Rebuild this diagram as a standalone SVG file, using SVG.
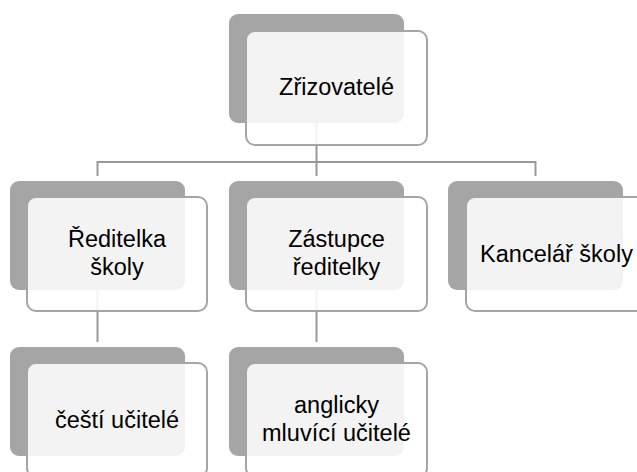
<svg xmlns="http://www.w3.org/2000/svg" width="637" height="472" viewBox="0 0 637 472">
<style>
.bg{fill:#a5a5a5}
.fg{fill:#ffffff;fill-opacity:0.87;stroke:#a5a5a5;stroke-width:2}
.lbl{font-family:"Liberation Sans",Arial,sans-serif;font-size:23.5px;fill:#000;text-anchor:middle}
.conn{fill:none;stroke:#999999;stroke-width:2}
</style>
<rect width="637" height="472" fill="#ffffff"/>
<g id="connectors">
<path class="conn" d="M316.5,123 V162 M97.5,176 V162 H535.5 V176 M316.5,162 V176"/>
<path class="conn" d="M97.5,290 V342 M316.5,290 V342"/>
</g>
<g id="n-zrizovatele">
<rect class="bg" x="229" y="14" width="175" height="109" rx="9"/>
<rect class="fg" x="246" y="31" width="181" height="114" rx="9"/>
<text class="lbl" x="336.5" y="95">Zřizovatelé</text>
</g>
<g id="n-reditelka">
<rect class="bg" x="10" y="181" width="175" height="109" rx="9"/>
<rect class="fg" x="27" y="197" width="180" height="114" rx="9"/>
<text class="lbl" x="117" y="247">Ředitelka</text>
<text class="lbl" x="117" y="275">školy</text>
</g>
<g id="n-zastupce">
<rect class="bg" x="229" y="181" width="175" height="109" rx="9"/>
<rect class="fg" x="246" y="197" width="181" height="114" rx="9"/>
<text class="lbl" x="336.5" y="247">Zástupce</text>
<text class="lbl" x="336.5" y="275">ředitelky</text>
</g>
<g id="n-kancelar">
<rect class="bg" x="448" y="181" width="175" height="109" rx="9"/>
<rect class="fg" x="466" y="197" width="181" height="114" rx="9"/>
<text class="lbl" x="556.5" y="262">Kancelář školy</text>
</g>
<g id="n-cesti">
<rect class="bg" x="10" y="347" width="175" height="109" rx="9"/>
<rect class="fg" x="27" y="363" width="180" height="114" rx="9"/>
<text class="lbl" x="117" y="428">čeští učitelé</text>
</g>
<g id="n-anglicky">
<rect class="bg" x="229" y="347" width="175" height="109" rx="9"/>
<rect class="fg" x="246" y="363" width="181" height="114" rx="9"/>
<text class="lbl" x="336.5" y="413">anglicky</text>
<text class="lbl" x="336.5" y="441">mluvící učitelé</text>
</g>
</svg>
